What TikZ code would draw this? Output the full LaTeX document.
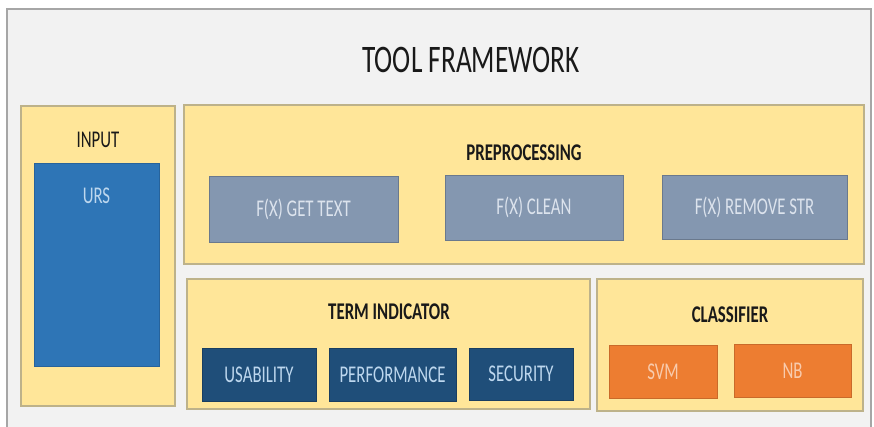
\documentclass[tikz,border=0pt]{standalone}
\usepackage{fontspec}
\setmainfont[FakeStretch=0.7]{Carlito}
\definecolor{bgc}{HTML}{F2F2F2}
\definecolor{framec}{HTML}{A6A6A6}
\definecolor{yel}{HTML}{FFE699}
\definecolor{yelb}{HTML}{BDB28A}
\definecolor{ursc}{HTML}{2E75B6}
\definecolor{fxc}{HTML}{8497B0}
\definecolor{navy}{HTML}{1F4E79}
\definecolor{orng}{HTML}{ED7D31}
\definecolor{ltblue}{HTML}{BDD7EE}
\definecolor{fxtext}{HTML}{DCE3ED}
\definecolor{ortext}{HTML}{F8CBAD}
\begin{document}
\begin{tikzpicture}[x=1pt,y=-1pt,
  cont/.style={draw=yelb,fill=yel,line width=1.2pt,inner sep=0,outer sep=0},
  blk/.style={inner sep=0,outer sep=0,line width=0.8pt,font=\fontsize{24}{26}\selectfont},
  fxbox/.style={blk,fill=fxc,draw=fxc!80!black,text=fxtext},
  navybox/.style={blk,fill=navy,draw=navy!80!black,text=ltblue},
  orbox/.style={blk,fill=orng,draw=orng!85!black,text=ortext},
  hdr/.style={inner sep=0,font=\fontsize{24}{26}\selectfont\bfseries,text=black!90}]
\useasboundingbox (0,0) rectangle (874,426);
\fill[white] (0,0) rectangle (874,426);
\draw[fill=bgc,draw=framec,line width=1.2pt] (7,9) rectangle (871,440);
\node[inner sep=0,font=\fontsize{39}{42}\selectfont,text=black!90] (title) at (471,60) {TOOL FRAMEWORK};
% input
\node[cont,minimum width=154pt,minimum height=300pt] (input) at (98,256) {};
\node[hdr,font=\fontsize{24}{26}\selectfont] (inputlbl) at (98,140) {INPUT};
\node[blk,fill=ursc,draw=ursc!85!black,minimum width=125pt,minimum height=203pt] (urs) at (96.5,264.5) {};
\node[inner sep=0,font=\fontsize{24}{26}\selectfont,text=ltblue] (urslbl) at (96.5,196) {URS};
% preprocessing
\node[cont,minimum width=680pt,minimum height=159pt] (prep) at (524,184.5) {};
\node[hdr] (preplbl) at (524,153) {PREPROCESSING};
\node[fxbox,minimum width=189pt,minimum height=66pt] (gettext) at (303.5,209) {F(X) GET TEXT};
\node[fxbox,minimum width=178pt,minimum height=65pt] (clean) at (534,207.5) {F(X) CLEAN};
\node[fxbox,minimum width=185pt,minimum height=64pt] (remove) at (754.5,207) {F(X) REMOVE STR};
% term indicator
\node[cont,minimum width=403pt,minimum height=130pt] (term) at (388.5,344) {};
\node[hdr] (termlbl) at (389,312) {TERM INDICATOR};
\node[navybox,minimum width=114pt,minimum height=53pt] (usab) at (259,374.5) {USABILITY};
\node[navybox,minimum width=127pt,minimum height=53pt] (perf) at (392.5,374.5) {PERFORMANCE};
\node[navybox,minimum width=104pt,minimum height=52pt] (sec) at (521,374) {SECURITY};
% classifier
\node[cont,minimum width=266pt,minimum height=132pt] (class) at (730,345) {};
\node[hdr] (classlbl) at (730,315) {CLASSIFIER};
\node[orbox,minimum width=108pt,minimum height=53pt] (svm) at (663,371.5) {SVM};
\node[orbox,minimum width=117pt,minimum height=53pt] (nb) at (792.5,370.5) {NB};
\end{tikzpicture}
\end{document}
